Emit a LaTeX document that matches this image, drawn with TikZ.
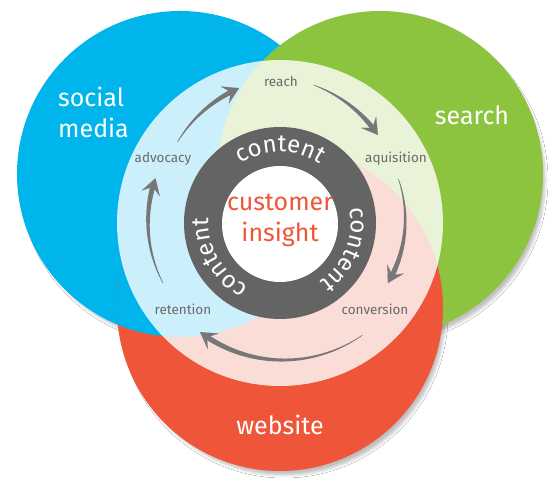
\documentclass[tikz,border=0pt]{standalone}
\usepackage{fontspec}
\setmainfont{Fira Sans}
\usetikzlibrary{decorations.text,arrows.meta,shadows.blur}
\definecolor{cblue}{HTML}{00B4EC}
\definecolor{cgreen}{HTML}{8CC43F}
\definecolor{cred}{HTML}{EF5639}
\definecolor{ringgray}{HTML}{646464}
\definecolor{arrowgray}{HTML}{777777}
\definecolor{labelgray}{HTML}{6A6A6A}
\newcommand{\arrowswoosh}[4]{%
  \fill[arrowgray] plot[domain=#1:#3+3, samples=40]
     (\x:{#2+(#4-(#2))*(\x-(#1))/(#3-(#1)) + (0.3+2.5*(\x-(#1))/(#3-(#1)))})
     -- plot[domain=#3+3:#1, samples=40]
     (\x:{#2+(#4-(#2))*(\x-(#1))/(#3-(#1)) - (0.3+2.5*(\x-(#1))/(#3-(#1)))}) -- cycle;
  \draw[arrowtip] ({#3+4}:{#4+(#2-(#4))*4/(#1-(#3))}) -- (#3:#4);
}
\begin{document}
\begin{tikzpicture}[x=1pt,y=1pt,
  bigcircle/.style={circle, minimum size=326pt, inner sep=0pt},
  shadowed/.style={blur shadow={shadow xshift=4pt, shadow yshift=-6pt, shadow blur radius=3pt, shadow opacity=25}},
  biglabel/.style={text=white, font=\fontsize{25}{25}\selectfont, inner sep=0pt, anchor=base},
  smalllabel/.style={text=labelgray, font=\fontsize{13.5}{13.5}\selectfont, inner sep=0pt, anchor=base},
  insightlabel/.style={text=cred, font=\fontsize{25}{25}\selectfont, inner sep=0pt, anchor=base},
  arrowtip/.style={arrowgray, line width=0.1pt, -{Stealth[length=16pt, width=19pt, inset=7pt]}},
  ringtext/.style={decorate, decoration={text along path, text align=center,
     text={|\color{white}\fontsize{24}{24}\selectfont|content}}}
]
\useasboundingbox (0,0) rectangle (560,494);
\fill[white] (0,0) rectangle (560,494);
% shadows
\path[shadowed] (180,320) circle (161);
\path[shadowed] (380,320) circle (161);
\path[shadowed] (280,186) circle (161);
% circles (cyclic overlap)
\node[bigcircle, fill=cblue] (blue) at (180,320) {};
\node[bigcircle, fill=cgreen] (green) at (380,320) {};
\node[bigcircle, fill=cred] (red) at (280,186) {};
\begin{scope}
  \clip (280,186) circle (163);
  \fill[cblue] (180,320) circle (163);
\end{scope}
% inner translucent circle
\node[bigcircle, fill=white, fill opacity=0.8] (inner) at (280,271) {};
% ring
\node[circle, minimum size=192pt, inner sep=0pt, fill=ringgray] (ring) at (280,271) {};
\node[circle, minimum size=116pt, inner sep=0pt, fill=white] (core) at (280,270) {};
\path[ringtext] ([shift={(132:71)}]ring.center) arc[start angle=132, end angle=48, radius=71];
\path[ringtext] ([shift={(20:71)}]ring.center) arc[start angle=20, end angle=-64, radius=71];
\path[ringtext] ([shift={(252:71)}]ring.center) arc[start angle=252, end angle=168, radius=71];
% centre text
\node[insightlabel] (customer) at (280,283) {customer};
\node[insightlabel] (insight) at (280,252) {insight};
% big labels
\node[biglabel, anchor=base west] (social) at (58,387) {social};
\node[biglabel, anchor=base west] (media) at (58,356) {media};
\node[biglabel] (search) at (472,369) {search};
\node[biglabel] (website) at (280,59) {website};
% cycle labels
\node[smalllabel] (reach) at (281,407) {reach};
\node[smalllabel] (aquisition) at (396,331) {aquisition};
\node[smalllabel] (conversion) at (375,179) {conversion};
\node[smalllabel] (retention) at (183,179) {retention};
\node[smalllabel] (advocacy) at (163,331) {advocacy};
% arrows
\coordinate (ac) at (280,272);
\begin{scope}[shift={(ac)}]
  \arrowswoosh{142}{130}{107}{140}
  \arrowswoosh{76}{141}{41.6}{131}
  \arrowswoosh{20}{126}{-29.5}{124}
  \arrowswoosh{-54}{140}{-126}{136}
  \arrowswoosh{207.5}{132}{160.6}{132}
\end{scope}
\end{tikzpicture}
\end{document}
